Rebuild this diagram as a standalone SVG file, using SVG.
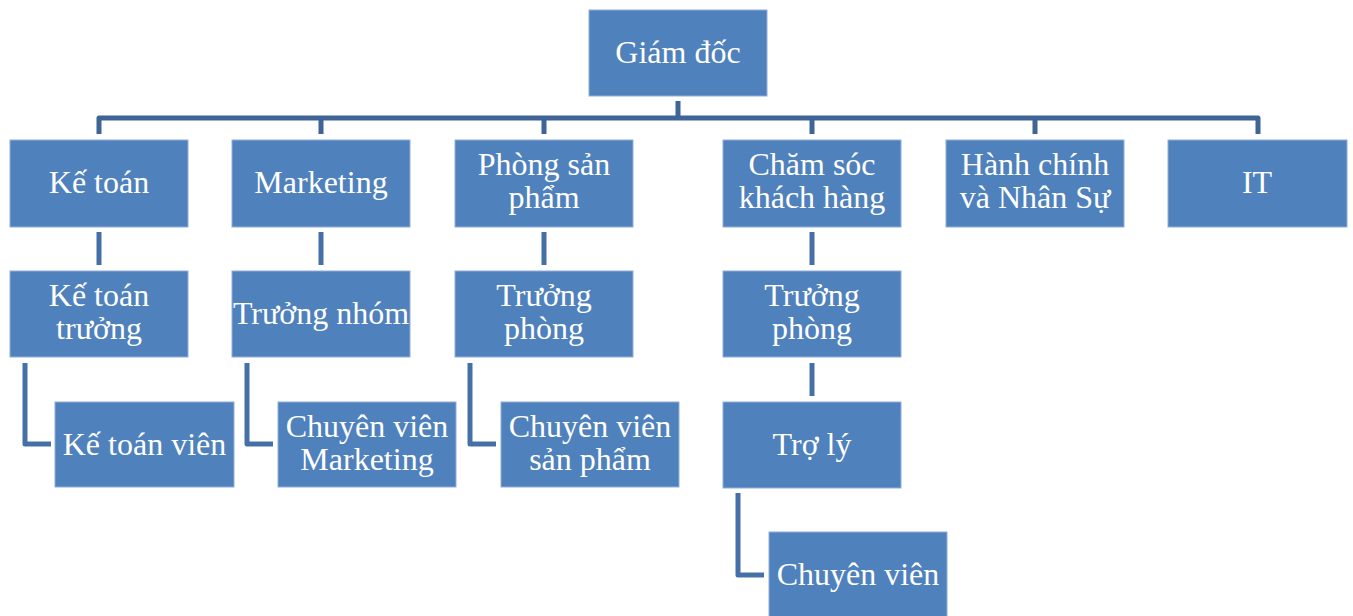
<svg xmlns="http://www.w3.org/2000/svg" width="1353" height="616" viewBox="0 0 1353 616">
<style>
.box{fill:#4F81BD;stroke:#92AEDA;stroke-width:1}
.t{font-family:"Liberation Serif","Times New Roman",serif;font-size:32px;fill:#FFFFFF;text-anchor:middle}
.c{fill:none;stroke:#4470A7;stroke-width:5;stroke-linejoin:round}
.bus{fill:none;stroke:#3F6596;stroke-width:5;stroke-linejoin:round}
</style>
<rect width="1353" height="616" fill="#FFFFFF"/>
<g id="connectors">
<path class="bus" d="M678,101 V118 M99,134 V118 H1258 V134 M321,118 V134 M544,118 V134 M812,118 V134 M1035,118 V134"/>
<path class="c" d="M99,232 V265 M321,232 V265 M544,232 V265 M812,232 V265"/>
<path class="c" d="M25,363 V444 H51 M247,363 V444 H273 M470,363 V444 H496"/>
<path class="c" d="M812,363 V396"/>
<path class="c" d="M738,493 V575 H764"/>
</g>
<g id="giam-doc"><rect class="box" x="589" y="10" width="178" height="86"/><text class="t" x="678" y="63">Giám đốc</text></g>
<g id="ke-toan"><rect class="box" x="10" y="140" width="178" height="87"/><text class="t" x="99" y="193">Kế toán</text></g>
<g id="marketing"><rect class="box" x="232" y="140" width="178" height="87"/><text class="t" x="321" y="193">Marketing</text></g>
<g id="phong-san-pham"><rect class="box" x="455" y="140" width="178" height="87"/><text class="t" x="544" y="175">Phòng sản</text><text class="t" x="544" y="208">phẩm</text></g>
<g id="cham-soc"><rect class="box" x="723" y="140" width="178" height="87"/><text class="t" x="812" y="175">Chăm sóc</text><text class="t" x="812" y="208">khách hàng</text></g>
<g id="hanh-chinh"><rect class="box" x="946" y="140" width="178" height="87"/><text class="t" x="1035" y="175">Hành chính</text><text class="t" x="1035" y="208">và Nhân Sự</text></g>
<g id="it"><rect class="box" x="1168" y="140" width="179" height="87"/><text class="t" x="1257" y="193">IT</text></g>
<g id="ke-toan-truong"><rect class="box" x="10" y="271" width="178" height="86"/><text class="t" x="99" y="306">Kế toán</text><text class="t" x="99" y="339">trưởng</text></g>
<g id="truong-nhom"><rect class="box" x="232" y="271" width="178" height="86"/><text class="t" x="321" y="324">Trưởng nhóm</text></g>
<g id="truong-phong-1"><rect class="box" x="455" y="271" width="178" height="86"/><text class="t" x="544" y="306">Trưởng</text><text class="t" x="544" y="339">phòng</text></g>
<g id="truong-phong-2"><rect class="box" x="723" y="271" width="178" height="86"/><text class="t" x="812" y="306">Trưởng</text><text class="t" x="812" y="339">phòng</text></g>
<g id="ke-toan-vien"><rect class="box" x="55" y="402" width="179" height="85"/><text class="t" x="144.5" y="455">Kế toán viên</text></g>
<g id="chuyen-vien-marketing"><rect class="box" x="278" y="402" width="178" height="85"/><text class="t" x="367" y="437">Chuyên viên</text><text class="t" x="367" y="470">Marketing</text></g>
<g id="chuyen-vien-san-pham"><rect class="box" x="501" y="402" width="178" height="85"/><text class="t" x="590" y="437">Chuyên viên</text><text class="t" x="590" y="470">sản phẩm</text></g>
<g id="tro-ly"><rect class="box" x="723" y="402" width="178" height="86"/><text class="t" x="812" y="455">Trợ lý</text></g>
<g id="chuyen-vien"><rect class="box" x="769" y="532" width="178" height="90"/><text class="t" x="858" y="585">Chuyên viên</text></g>
</svg>
